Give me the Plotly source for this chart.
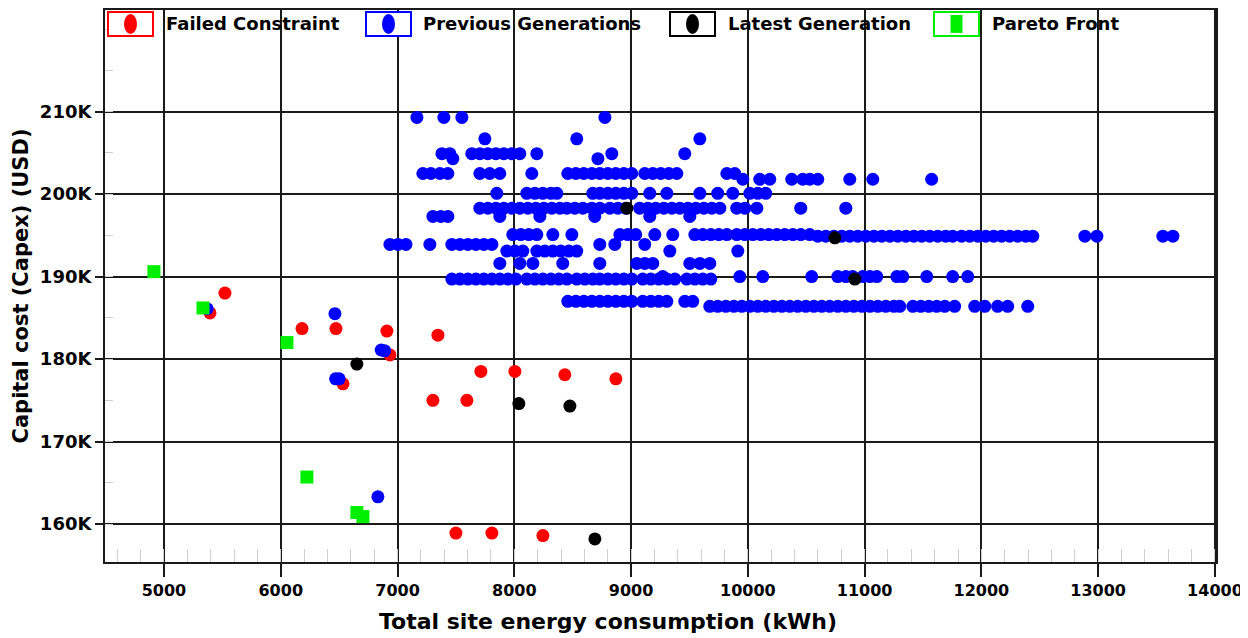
import plotly.graph_objects as go

# ---------------- data ----------------
failed_x = [5522, 5394, 6182, 6473, 6909, 7346, 6935, 6533, 7714, 8005, 8433, 8870,
            7303, 7594, 7500, 7808, 8245]
failed_y = [188000, 185600, 183700, 183700, 183400, 182900, 180500, 177000, 178500, 178500,
            178100, 177600, 175000, 175000, 158900, 158900, 158600]

prev_rows = [
    (209300, [7166, 7397, 7551, 8776]),
    (206700, [7748, 8535, 9589]),
    (204900, [7380, 7448, 7636, 7705, 7773, 7842, 7910, 7979, 8047, 8193, 8835, 9460]),
    (204300, [7474, 8716]),
    (202500, [7217, 7286, 7363, 7431, 7705, 7790, 7876, 8150, 8458, 8527, 8595, 8664, 8732,
              8801, 8869, 8938, 9006, 9117, 9186, 9254, 9323, 9392, 9820, 9888]),
    (201800, [9957, 10102, 10188, 10376, 10470, 10530, 10599, 10873, 11070, 11574]),
    (200100, [7850, 8107, 8176, 8244, 8313, 8364, 8672, 8732, 8801, 8869, 8938, 9006, 9160,
              9306, 9589, 9742, 9871, 10017, 10085, 10153]),
    (198300, [7705, 7773, 7842, 7910, 7979, 8047, 8116, 8184, 8253, 8321, 8390, 8450, 8518,
              8587, 8664, 8732, 8818, 8887, 8955, 9074, 9143, 9211, 9280, 9349, 9417, 9486,
              9554, 9623, 9691, 9760, 9905, 9974, 10077, 10453, 10839]),
    (197300, [7303, 7371, 7431, 7876, 8219, 8689, 9160, 9503]),
    (195100, [7987, 8056, 8124, 8193, 8330, 8493, 8904, 8972, 9040, 9203, 9357, 9546, 9614,
              9683, 9751, 9820, 9905, 9974, 10042, 10111, 10179, 10248, 10316, 10385, 10453,
              10530]),
    (194900, [10599, 10667, 10736, 10804, 10873, 10941, 11010, 11079, 11147, 11216, 11284,
              11353, 11421, 11489, 11557, 11626, 11694, 11754, 11831, 11900, 11969, 12037,
              12105, 12173, 12242, 12311, 12380, 12440, 12886, 12989, 13554, 13640]),
    (193900, [6935, 7003, 7072, 7277, 7465, 7534, 7602, 7671, 7739, 7808, 8732, 8861, 9117]),
    (193100, [7936, 8005, 8073, 8193, 8261, 8330, 8398, 8467, 8535, 9332, 9914]),
    (191600, [7876, 8047, 8159, 8415, 8732, 9049, 9117, 9186, 9503, 9589, 9674]),
    (190000, [9271, 9931, 10128, 10547, 10770, 10839, 10898, 10984, 11045, 11104, 11276,
              11327, 11532, 11754, 11883]),
    (189700, [7465, 7534, 7602, 7671, 7739, 7808, 7876, 7945, 8013, 8107, 8176, 8244, 8313,
              8381, 8450, 8535, 8604, 8672, 8732, 8801, 8869, 8938, 9006, 9100, 9169, 9237,
              9306, 9375, 9477, 9546, 9614, 9683]),
    (187000, [8458, 8527, 8595, 8664, 8732, 8801, 8869, 8938, 9006, 9100, 9169, 9237, 9306,
              9460, 9528]),
    (186400, [9674, 9742, 9811, 9880, 9948, 10017, 10085, 10153, 10222, 10291, 10359, 10427,
              10496, 10565, 10633, 10701, 10770, 10839, 10907, 10976, 11045, 11113, 11181,
              11250, 11301, 11413, 11481, 11549, 11617, 11686, 11771, 11943, 12029, 12139,
              12225, 12397]),
]
prev_extra_x = [5370, 6464, 6860, 6890, 6470, 6500, 6832]
prev_extra_y = [186100, 185500, 181100, 181000, 177600, 177600, 163300]

latest_x = [6652, 8964, 10745, 10916, 8039, 8476, 8690]
latest_y = [179400, 198300, 194700, 189700, 174600, 174300, 158200]

pareto_x = [4914, 5334, 6053, 6224, 6652, 6704]
pareto_y = [190600, 186200, 182000, 165700, 161400, 160900]

x_tickvals = [5000, 6000, 7000, 8000, 9000, 10000, 11000, 12000, 13000, 14000]
x_ticktext = ["5000", "6000", "7000", "8000", "9000", "10000", "11000", "12000", "13000", "14000"]
y_tickvals = [160000, 170000, 180000, 190000, 200000, 210000]
y_ticktext = ["160K", "170K", "180K", "190K", "200K", "210K"]

legend_names = ["Failed Constraint", "Previous Generations", "Latest Generation", "Pareto Front"]
legend_colors = ["#ff0000", "#0000ff", "#000000", "#00ee00"]

prev_x = [x for _, xs in prev_rows for x in xs] + prev_extra_x
prev_y = [y for y, xs in prev_rows for _ in xs] + prev_extra_y

# ---------------- figure ----------------
OFF = 8                      # page body margin
W, H = 1240, 630
ML, MR, MT, MB = 97, 32, 0, 76
PW, PH = W - ML - MR, H - MT - MB
FONT = "DejaVu Sans, Verdana, sans-serif"

def px(xp):
    return (xp - OFF - ML) / PW

def py(yp):
    return (H - MB - (yp - OFF)) / PH

fig = go.Figure()
fig.add_trace(go.Scatter(x=failed_x, y=failed_y, mode="markers", name=legend_names[0],
                         marker=dict(color=legend_colors[0], size=13, line=dict(width=0)),
                         showlegend=False))
fig.add_trace(go.Scatter(x=prev_x, y=prev_y, mode="markers", name=legend_names[1],
                         marker=dict(color=legend_colors[1], size=13, line=dict(width=0)),
                         showlegend=False))
fig.add_trace(go.Scatter(x=latest_x, y=latest_y, mode="markers", name=legend_names[2],
                         marker=dict(color=legend_colors[2], size=13, line=dict(width=0)),
                         showlegend=False))
fig.add_trace(go.Scatter(x=pareto_x, y=pareto_y, mode="markers", name=legend_names[3],
                         marker=dict(color=legend_colors[3], size=13, symbol="square",
                                     line=dict(width=0)),
                         showlegend=False))

shapes = []
annotations = []
# white band at top hiding gridlines behind the legend
shapes.append(dict(type="rect", xref="paper", yref="paper", x0=0, x1=1, y0=py(37), y1=1,
                   fillcolor="white", line=dict(width=0), layer="between"))

box_left = [108, 366, 670, 934]
text_left = [164, 421, 726, 990]
for i, name in enumerate(legend_names):
    c = legend_colors[i]
    bx = box_left[i]
    shapes.append(dict(type="rect", xref="paper", yref="paper",
                       x0=px(bx), x1=px(bx + 45), y0=py(34), y1=py(10),
                       fillcolor="white", line=dict(color=c, width=2), layer="above"))
    cx = bx + 22.5
    if i == 3:
        shapes.append(dict(type="rect", xref="paper", yref="paper",
                           x0=px(cx - 6), x1=px(cx + 6), y0=py(31), y1=py(13),
                           fillcolor=c, line=dict(width=0), layer="above"))
    else:
        shapes.append(dict(type="circle", xref="paper", yref="paper",
                           x0=px(cx - 6.5), x1=px(cx + 6.5), y0=py(32), y1=py(12),
                           fillcolor=c, line=dict(width=0), layer="above"))
    annotations.append(dict(text="<b>%s</b>" % name, xref="paper", yref="paper",
                            x=px(text_left[i]), y=py(22), xanchor="left", yanchor="middle",
                            showarrow=False, font=dict(size=18, color="black", family=FONT)))

# x-axis title (centred where the original places it)
annotations.append(dict(text="<b>Total site energy consumption (kWh)</b>", xref="paper",
                        yref="paper", x=px(608), y=py(622), xanchor="center", yanchor="middle",
                        showarrow=False, font=dict(size=22, color="black", family=FONT)))

fig.update_layout(
    width=W, height=H,
    margin=dict(l=ML, r=MR, t=MT, b=MB),
    paper_bgcolor="white", plot_bgcolor="white",
    font=dict(family=FONT, color="black"),
    shapes=shapes, annotations=annotations,
    showlegend=False,
)
fig.update_xaxes(
    range=[4495, 14009], tickvals=x_tickvals, ticktext=x_ticktext,
    showgrid=True, gridcolor="#1a1a1a", gridwidth=2,
    zeroline=False,
    showline=True, linecolor="#1a1a1a", linewidth=2, mirror=True,
    ticks="outside", ticklen=13, tickwidth=2, tickcolor="#1a1a1a",
    tickfont=dict(size=16, family=FONT, weight="bold"),
    minor=dict(ticks="inside", dtick=200, ticklen=13, tickwidth=1, tickcolor="#cfcfcf",
               showgrid=False),
)
fig.update_yaxes(
    range=[155398, 222322], tickvals=y_tickvals, ticktext=y_ticktext,
    showgrid=True, gridcolor="#1a1a1a", gridwidth=2,
    zeroline=False,
    showline=True, linecolor="#1a1a1a", linewidth=2, mirror=True,
    ticks="outside", ticklen=8, tickwidth=1.5, tickcolor="#1a1a1a",
    tickfont=dict(size=18, family=FONT, weight="bold"),
    minor=dict(ticks="inside", dtick=5000, ticklen=8, tickwidth=1, tickcolor="#cfcfcf",
               showgrid=False),
    title=dict(text="<b>Capital cost (Capex) (USD)</b>", font=dict(size=21, family=FONT), standoff=6),
)

fig.write_html("out.html")
